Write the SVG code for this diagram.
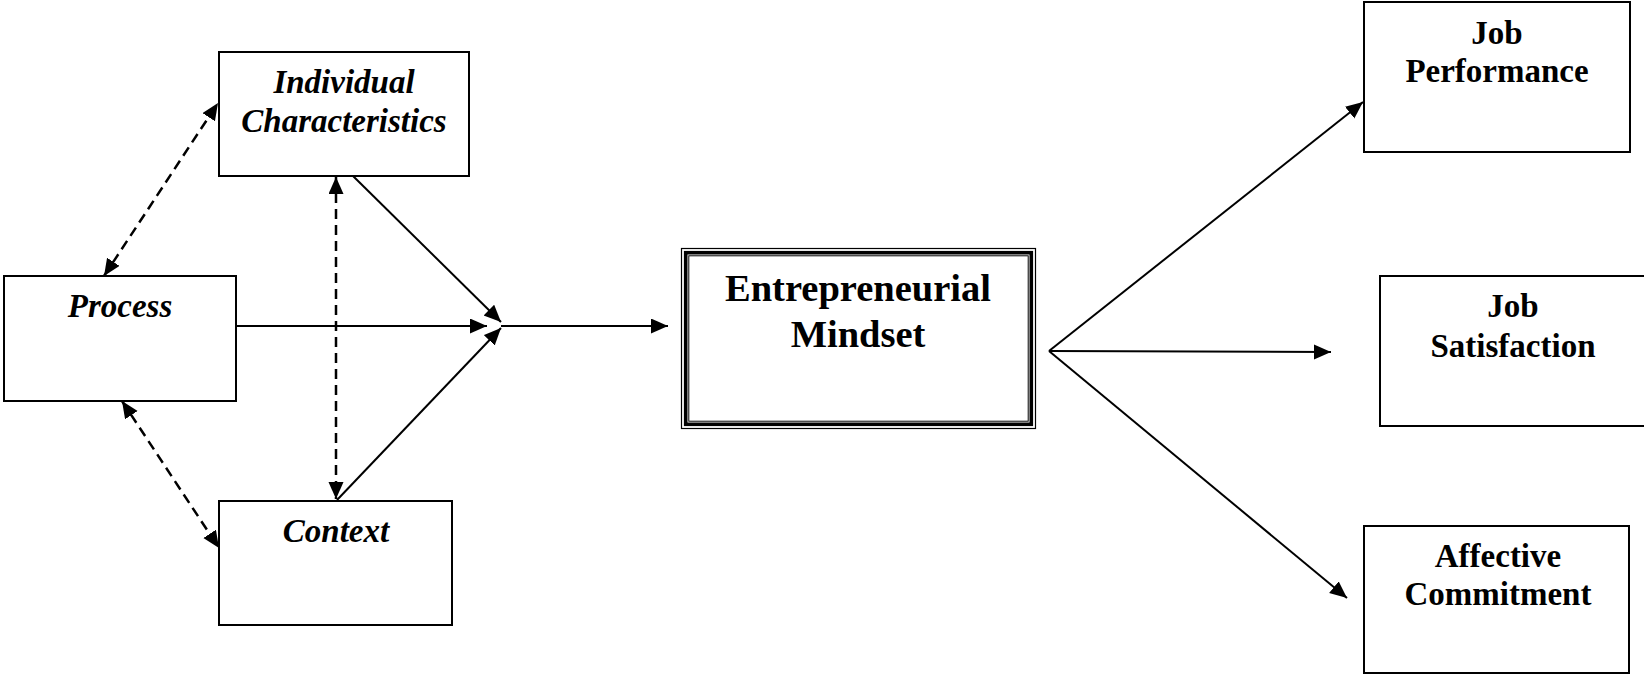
<svg xmlns="http://www.w3.org/2000/svg" width="1644" height="675" viewBox="0 0 1644 675">
<style>
.box{fill:#fff;stroke:#000;stroke-width:2}
.it{font-family:"Liberation Serif","Times New Roman",serif;font-weight:bold;font-style:italic;font-size:33px;text-anchor:middle;fill:#000}
.bd{font-family:"Liberation Serif","Times New Roman",serif;font-weight:bold;font-size:33px;text-anchor:middle;fill:#000}
.em{font-family:"Liberation Serif","Times New Roman",serif;font-weight:bold;font-size:38.5px;text-anchor:middle;fill:#000}
.sl{fill:none;stroke:#000;stroke-width:2}
.dl{fill:none;stroke:#000;stroke-width:2.5;stroke-dasharray:10 6}
</style>
<defs>
<marker id="ah" markerUnits="userSpaceOnUse" markerWidth="18" markerHeight="16" refX="17" refY="7.5" orient="auto-start-reverse">
<path d="M0,0 L17,7.5 L0,15 Z" fill="#000"/>
</marker>
</defs>
<rect width="1644" height="675" fill="#fff"/>
<g id="connectors">
<line class="sl" x1="237" y1="326" x2="487" y2="326" marker-end="url(#ah)"/>
<line class="sl" x1="353" y1="176" x2="501" y2="322" marker-end="url(#ah)"/>
<line class="sl" x1="337" y1="500" x2="501" y2="328" marker-end="url(#ah)"/>
<line class="sl" x1="501" y1="326" x2="668" y2="326" marker-end="url(#ah)"/>
<line class="dl" x1="104" y1="276" x2="218" y2="103" marker-start="url(#ah)" marker-end="url(#ah)"/>
<line class="dl" x1="336" y1="177" x2="336" y2="499" marker-start="url(#ah)" marker-end="url(#ah)"/>
<line class="dl" x1="122" y1="401" x2="219" y2="548" marker-start="url(#ah)" marker-end="url(#ah)"/>
<line class="sl" x1="1049" y1="351" x2="1363" y2="102" marker-end="url(#ah)"/>
<line class="sl" x1="1049" y1="351" x2="1331" y2="352" marker-end="url(#ah)"/>
<line class="sl" x1="1049" y1="351" x2="1347" y2="598" marker-end="url(#ah)"/>
</g>
<g id="individual">
<rect class="box" x="219" y="52" width="250" height="124"/>
<text class="it" x="344" y="93">Individual</text>
<text class="it" x="344" y="132">Characteristics</text>
</g>
<g id="process">
<rect class="box" x="4" y="276" width="232" height="125"/>
<text class="it" x="120" y="317">Process</text>
</g>
<g id="context">
<rect class="box" x="219" y="501" width="233" height="124"/>
<text class="it" x="336" y="542">Context</text>
</g>
<g id="mindset">
<rect x="681.5" y="248.5" width="354" height="180" fill="#fff" stroke="#000" stroke-width="1.2"/>
<rect x="685.7" y="252.7" width="345.6" height="171.6" fill="none" stroke="#000" stroke-width="3.6"/>
<rect x="688.8" y="255.8" width="339.4" height="165.4" fill="none" stroke="#000" stroke-width="1"/>
<text class="em" x="858" y="301">Entrepreneurial</text>
<text class="em" x="858" y="347">Mindset</text>
</g>
<g id="job-performance">
<rect class="box" x="1364" y="2" width="266" height="150"/>
<text class="bd" x="1497" y="44">Job</text>
<text class="bd" x="1497" y="82">Performance</text>
</g>
<g id="job-satisfaction">
<rect class="box" x="1380" y="276" width="280" height="150"/>
<text class="bd" x="1513" y="317">Job</text>
<text class="bd" x="1513" y="357">Satisfaction</text>
</g>
<g id="affective-commitment">
<rect class="box" x="1364" y="526" width="265" height="147"/>
<text class="bd" x="1498" y="567">Affective</text>
<text class="bd" x="1498" y="605">Commitment</text>
</g>
</svg>
